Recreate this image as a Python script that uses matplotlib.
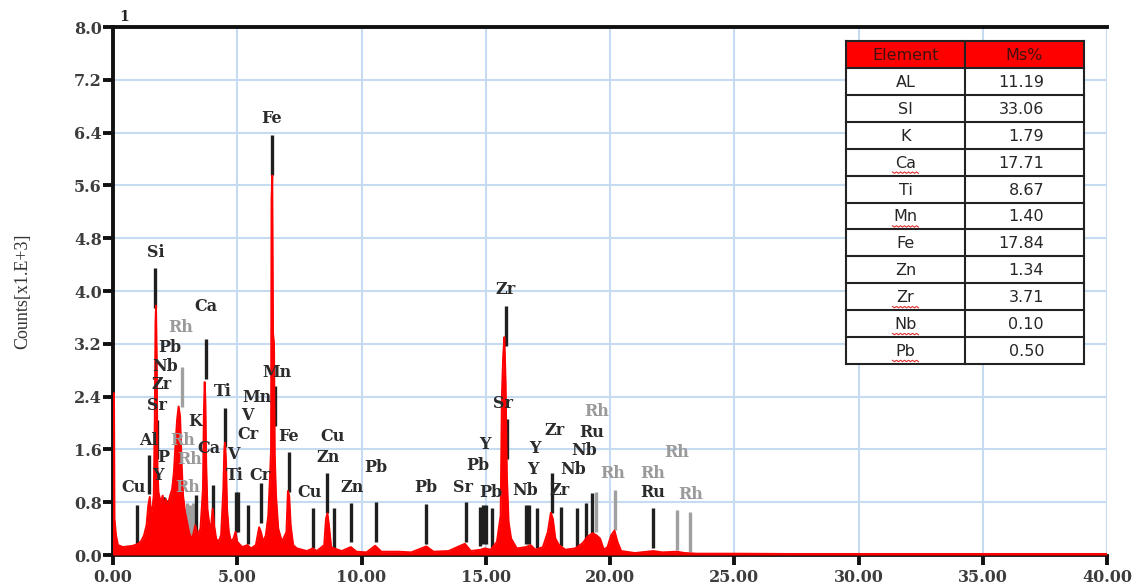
import matplotlib
matplotlib.use("Agg")
import matplotlib.pyplot as plt
from matplotlib.patches import Rectangle

# ---- spectrum (energy in keV, counts in 1e3) ----
energy = [0.00, 0.01, 0.04, 0.06, 0.12, 0.20, 0.40, 0.60, 0.80, 0.95, 1.05, 1.15,
          1.25, 1.35, 1.42, 1.48, 1.53, 1.60, 1.64, 1.68, 1.71, 1.73, 1.76, 1.79,
          1.83, 1.92, 2.00, 2.05, 2.12, 2.20, 2.30, 2.38, 2.45, 2.52, 2.58, 2.64,
          2.70, 2.76, 2.82, 2.90, 2.98, 3.06, 3.14, 3.22, 3.31, 3.40, 3.52, 3.62,
          3.66, 3.69, 3.72, 3.75, 3.80, 3.88, 3.95, 4.01, 4.07, 4.15, 4.25, 4.35,
          4.44, 4.48, 4.51, 4.55, 4.59, 4.66, 4.75, 4.85, 4.93, 5.00, 5.20, 5.41,
          5.55, 5.75, 5.88, 5.95, 6.05, 6.15, 6.25, 6.32, 6.36, 6.38, 6.41, 6.44,
          6.48, 6.51, 6.56, 6.65, 6.80, 6.98, 7.04, 7.09, 7.15, 7.25, 7.40, 7.80,
          8.04, 8.20, 8.50, 8.57, 8.63, 8.69, 8.78, 8.90, 9.20, 9.57, 9.80, 10.20,
          10.55, 10.80, 11.50, 12.00, 12.61, 12.90, 13.50, 14.16, 14.40, 14.80,
          14.96, 15.20, 15.45, 15.60, 15.65, 15.70, 15.75, 15.80, 15.85, 15.92,
          16.02, 16.25, 16.62, 16.80, 17.00, 17.30, 17.50, 17.62, 17.70, 17.80,
          17.95, 18.20, 18.60, 18.90, 19.10, 19.30, 19.45, 19.60, 19.75, 19.90,
          20.05, 20.18, 20.30, 20.45, 21.00, 21.50, 21.75, 22.10, 22.70, 23.00,
          23.50, 25.00, 30.00, 40.00]
counts = [0.00, 2.45, 2.45, 0.55, 0.30, 0.15, 0.12, 0.13, 0.14, 0.16, 0.18, 0.22,
          0.30, 0.45, 0.75, 0.88, 0.60, 0.75, 0.90, 2.00, 3.50, 3.78, 3.00, 1.30,
          0.95, 0.80, 0.90, 0.70, 0.85, 0.75, 0.90, 1.00, 1.25, 1.70, 2.05, 2.25,
          2.10, 1.40, 0.90, 0.65, 0.50, 0.35, 0.25, 0.30, 0.45, 0.30, 0.40, 1.00,
          2.20, 2.62, 2.30, 1.40, 0.70, 0.45, 0.45, 0.70, 0.45, 0.25, 0.20, 0.30,
          1.00, 1.60, 1.70, 1.40, 0.70, 0.35, 0.20, 0.25, 0.35, 0.20, 0.12, 0.15,
          0.10, 0.15, 0.42, 0.35, 0.20, 0.30, 0.60, 1.20, 1.60, 5.40, 5.75, 3.36,
          3.20, 1.50, 0.90, 0.40, 0.20, 0.35, 0.97, 0.90, 0.45, 0.15, 0.10, 0.06,
          0.10, 0.06, 0.15, 0.55, 0.63, 0.45, 0.12, 0.10, 0.06, 0.12, 0.05, 0.04,
          0.14, 0.05, 0.05, 0.04, 0.13, 0.05, 0.06, 0.17, 0.06, 0.08,
          0.10, 0.08, 0.20, 0.60, 2.40, 3.00, 3.30, 2.60, 1.20, 0.50,
          0.25, 0.10, 0.12, 0.15, 0.08, 0.12, 0.35, 0.64, 0.55, 0.25,
          0.15, 0.08, 0.10, 0.18, 0.28, 0.33, 0.30, 0.25, 0.08, 0.12,
          0.30, 0.37, 0.20, 0.06, 0.03, 0.05, 0.06, 0.04, 0.05, 0.03,
          0.02, 0.02, 0.01, 0.01]

# ---- element line markers: energy, top of marker, colour group ----
marker_energy = [0.97, 1.45, 1.69, 1.78, 2.00, 2.05, 2.17, 2.29, 2.41, 2.54, 2.78,
                 2.98, 3.10, 3.22, 3.34, 3.74, 4.01, 4.51, 4.93, 5.03, 5.43, 5.96,
                 6.40, 6.52, 7.08, 8.04, 8.61, 8.90, 9.58, 10.58, 12.61, 14.20,
                 14.77, 14.89, 15.01, 15.25, 15.81, 15.85, 16.62, 16.74, 17.06,
                 17.67, 18.03, 18.67, 19.03, 19.28, 19.44, 20.20, 21.73, 22.70,
                 23.22]
marker_top = [0.76, 1.52, 4.35, 2.05, 0.88, 0.88, 0.83, 0.86, 0.91, 0.88, 2.85,
              0.79, 0.76, 0.79, 0.91, 3.27, 1.06, 2.23, 0.95, 0.95, 0.76, 1.09,
              6.36, 2.56, 1.56, 0.71, 1.24, 0.71, 0.79, 0.80, 0.77, 0.80,
              0.73, 0.76, 0.76, 0.71, 3.77, 2.06, 0.76, 0.76, 0.71,
              1.24, 0.73, 0.71, 0.79, 0.94, 0.95, 0.98, 0.71, 0.68,
              0.65]
marker_group = ["k", "k", "k", "k", "k", "k", "k", "g", "k", "g", "g",
                "g", "g", "g", "k", "k", "k", "k", "k", "k", "k", "k",
                "k", "k", "k", "k", "k", "k", "k", "k", "k", "k",
                "k", "k", "k", "k", "k", "k", "k", "k", "k",
                "k", "k", "k", "k", "k", "g", "g", "k", "g",
                "g"]
marker_length = 0.60

# ---- element labels: text, energy, height, colour group ----
label_text = ["Si", "Ca", "Rh", "Pb", "Nb", "Zr", "Sr", "K", "Al", "Rh", "Ca",
              "P", "Rh", "Y", "Rh", "Cu", "Ti", "Mn", "Mn", "V", "Cr", "Fe",
              "V", "Ti", "Cr", "Fe", "Cu", "Zn", "Pb", "Cu", "Zn", "Pb",
              "Zr", "Sr", "Rh", "Zr", "Ru", "Y", "Y", "Nb", "Pb", "Y", "Nb",
              "Sr", "Pb", "Nb", "Zr", "Rh", "Rh", "Rh", "Ru", "Rh"]
label_energy = [1.73, 3.72, 2.72, 2.29, 2.09, 1.97, 1.77, 3.30, 1.41, 2.80, 3.86,
                2.01, 3.10, 1.81, 3.02, 0.82, 4.43, 6.60, 5.79, 5.39, 5.43, 7.08,
                4.85, 4.89, 5.90, 6.40, 8.85, 8.65, 10.58, 7.93, 9.62, 12.60,
                15.81, 15.69, 19.45, 17.75, 19.25, 14.97, 16.98, 18.95, 14.69, 16.90, 18.51,
                14.10, 15.19, 16.60, 17.99, 20.12, 22.70, 21.73, 21.73, 23.25]
label_height = [4.58, 3.76, 3.45, 3.15, 2.85, 2.58, 2.27, 2.02, 1.74, 1.73, 1.62,
                1.47, 1.44, 1.21, 1.03, 1.03, 2.47, 2.77, 2.38, 2.12, 1.82, 1.79,
                1.52, 1.21, 1.21, 6.62, 1.79, 1.47, 1.33, 0.94, 1.03, 1.03,
                4.02, 2.30, 2.17, 1.88, 1.86, 1.68, 1.61, 1.58, 1.36, 1.30, 1.29,
                1.03, 0.95, 0.98, 0.98, 1.23, 1.55, 1.24, 0.94, 0.91]
label_group = ["k", "k", "g", "k", "k", "k", "k", "k", "k", "g", "k",
               "k", "g", "k", "g", "k", "k", "k", "k", "k", "k", "k",
               "k", "k", "k", "k", "k", "k", "k", "k", "k", "k",
               "k", "k", "g", "k", "k", "k", "k", "k", "k", "k", "k",
               "k", "k", "k", "k", "g", "g", "g", "k", "g"]

# ---- composition table ----
table_elements = ["AL", "SI", "K", "Ca", "Ti", "Mn", "Fe", "Zn", "Zr", "Nb", "Pb"]
table_mass = ["11.19", "33.06", "1.79", "17.71", "8.67", "1.40", "17.84", "1.34",
              "3.71", "0.10", "0.50"]
spell_flagged = ["Ca", "Mn", "Zr", "Nb", "Pb"]

x_ticks = [0, 5, 10, 15, 20, 25, 30, 35, 40]
y_ticks = [0.0, 0.8, 1.6, 2.4, 3.2, 4.0, 4.8, 5.6, 6.4, 7.2, 8.0]

W, H = 1136, 586
fig = plt.figure(figsize=(W / 100, H / 100), dpi=100)
fig.patch.set_facecolor("white")
ax = fig.add_axes([113 / W, 1 - 555 / H, (1107 - 113) / W, (555 - 27) / H])

serif = ["DejaVu Serif"]
text_col = {"k": "#2b2b2b", "g": "#9a9a9a"}
line_col = {"k": "#1f1f1f", "g": "#a0a0a0"}

ax.set_xlim(0, 40)
ax.set_ylim(0, 8.0)
ax.set_xticks(x_ticks)
ax.set_yticks(y_ticks)
ax.set_xticklabels([f"{v:.2f}" for v in x_ticks])
ax.set_yticklabels([f"{v:.1f}" for v in y_ticks])
ax.grid(True, color="#c6dbf2", lw=1.5, zorder=0)
ax.set_axisbelow(True)

for lab in ax.get_xticklabels() + ax.get_yticklabels():
    lab.set_fontfamily(serif)
    lab.set_fontsize(11.5)
    lab.set_fontweight("bold")
    lab.set_color("#3d3d3d")
ax.tick_params(axis="both", direction="out", length=7, width=2.8, color="#111111")
ax.tick_params(axis="y", pad=1)
ax.tick_params(axis="x", pad=3)

for side in ["left", "top"]:
    ax.spines[side].set_linewidth(2.8)
    ax.spines[side].set_color("#111111")
ax.spines["bottom"].set_linewidth(2.0)
ax.spines["bottom"].set_color("#111111")
ax.spines["right"].set_visible(False)

# element markers (drawn under the spectrum)
for e, top, g in zip(marker_energy, marker_top, marker_group):
    ax.vlines(e, top - marker_length, top, color=line_col[g], lw=2.4, zorder=2)

# spectrum
ax.fill_between(energy, 0, counts, color="#ff0000", lw=0, zorder=3)
ax.plot(energy, counts, color="#ff0000", lw=1.4, zorder=3)
ax.axhline(0.02, color="#ff0000", lw=2.2, zorder=3)

for t, e, h, g in zip(label_text, label_energy, label_height, label_group):
    ax.text(e, h, t, ha="center", va="center", fontsize=11.5, fontweight="bold",
            family=serif, color=text_col[g], zorder=4)

ax.set_ylabel("Counts[x1.E+3]", family=["Liberation Serif"], fontsize=13,
              color="#333333")
ax.yaxis.set_label_coords(-0.082, 0.5)
fig.text(119 / W, 1 - 17 / H, "1", family=serif, fontsize=10, fontweight="bold",
         color="#222222", ha="left", va="center")

# composition table
tx0, tx1, tmid = 846, 1084, 965
ty0, hdr, rowh = 41, 27, 26.9
tab = fig.add_axes([0, 0, 1, 1], facecolor="none")
tab.set_xlim(0, W)
tab.set_ylim(H, 0)
tab.axis("off")
tab.add_patch(Rectangle((tx0, ty0), tx1 - tx0, hdr, facecolor="#ff0000",
                        edgecolor="none"))
tab.add_patch(Rectangle((tx0, ty0 + hdr), tx1 - tx0, rowh * len(table_elements),
                        facecolor="white", edgecolor="none"))
bottom = ty0 + hdr + rowh * len(table_elements)
for i in range(len(table_elements) + 2):
    y = ty0 if i == 0 else ty0 + hdr + rowh * (i - 1)
    tab.plot([tx0, tx1], [y, y], color="#222222", lw=1.5)
for x in [tx0, tmid, tx1]:
    tab.plot([x, x], [ty0, bottom], color="#222222", lw=1.5)

sans = ["DejaVu Sans"]
tab.text((tx0 + tmid) / 2, ty0 + hdr / 2 + 1, "Element", ha="center", va="center",
         family=sans, fontsize=11.5, color="#401010")
tab.text((tmid + tx1) / 2, ty0 + hdr / 2 + 1, "Ms%", ha="center", va="center",
         family=sans, fontsize=11.5, color="#401010")
for i, (el, ms) in enumerate(zip(table_elements, table_mass)):
    yc = ty0 + hdr + rowh * (i + 0.5) + 1
    tab.text((tx0 + tmid) / 2, yc, el, ha="center", va="center", family=sans,
             fontsize=11.5, color="#262626")
    tab.text(1044, yc, ms, ha="right", va="center", family=sans, fontsize=11.5,
             color="#262626")
    if el in spell_flagged:
        # red wavy spell-check underline
        xc = (tx0 + tmid) / 2
        xs = [xc - 13 + 2 * k for k in range(14)]
        ys = [yc + 9 + (1.2 if k % 2 else -0.2) for k in range(14)]
        tab.plot(xs, ys, color="#e03030", lw=0.8)

fig.savefig("out.png", dpi=100)
